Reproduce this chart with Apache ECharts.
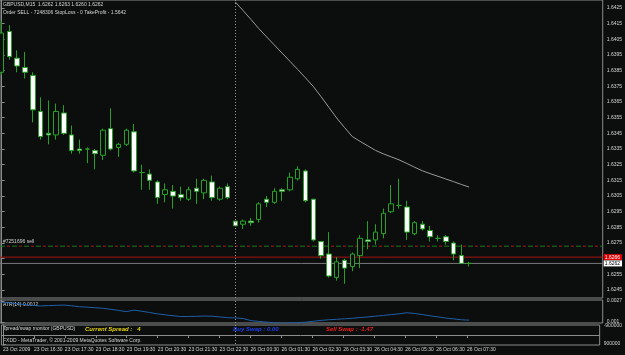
<!DOCTYPE html>
<html>
<head>
<meta charset="utf-8">
<title>GBPUSD,M15</title>
<script src="https://cdn.jsdelivr.net/npm/echarts@6/dist/echarts.min.js"></script>
<style>
  html, body { margin: 0; padding: 0; background: #0b0e0d; }
  #chart { width: 625px; height: 355px; }
</style>
</head>
<body>
<div id="chart"></div>
<script>
  // M15 bars, first one is 23 Oct 15:30 (bar 30 = 26 Oct 00:00)
  var opens  = [1.6384, 1.6410, 1.6393, 1.6387, 1.6382, 1.6359, 1.6345, 1.6344, 1.6358, 1.6344,
                1.6335, 1.6335, 1.6334, 1.6331, 1.6348, 1.6336, 1.6338, 1.6346, 1.6320, 1.6319,
                1.6314, 1.6306, 1.6308, 1.6306, 1.6303, 1.6310, 1.6307, 1.6314, 1.6303, 1.6311,
                1.6289, 1.6287, 1.6289, 1.6290, 1.6303, 1.6301, 1.6309, 1.6309, 1.6316, 1.6321,
                1.6303, 1.6276, 1.6268, 1.6253, 1.6264, 1.6260, 1.6267, 1.6277, 1.6277, 1.6281,
                1.6295, 1.6299, 1.6298, 1.6281, 1.6287, 1.6283, 1.6278, 1.6279, 1.6275, 1.6267,
                1.6262];
  var closes = [1.6409, 1.6394, 1.6388, 1.6384, 1.6360, 1.6343, 1.6344, 1.6359, 1.6345, 1.6334,
                1.6334, 1.6335, 1.6332, 1.6347, 1.6335, 1.6338, 1.6347, 1.6321, 1.6320, 1.6315,
                1.6304, 1.6309, 1.6305, 1.6304, 1.6309, 1.6308, 1.6315, 1.6304, 1.6310, 1.6304,
                1.6286, 1.6289, 1.6288, 1.6300, 1.6301, 1.6308, 1.6308, 1.6317, 1.6322, 1.6302,
                1.6277, 1.6267, 1.6254, 1.6263, 1.6259, 1.6268, 1.6278, 1.6276, 1.6282, 1.6294,
                1.6300, 1.6299, 1.6282, 1.6288, 1.6284, 1.6279, 1.6278, 1.6276, 1.6268, 1.6262,
                1.6262];
  var highs  = [1.6417, 1.6414, 1.6398, 1.6397, 1.6384, 1.6368, 1.6366, 1.6364, 1.6363, 1.6350,
                1.6341, 1.6336, 1.6335, 1.6348, 1.6361, 1.6339, 1.6348, 1.6351, 1.6325, 1.6322,
                1.6315, 1.6313, 1.6312, 1.6311, 1.6311, 1.6316, 1.6316, 1.6318, 1.6311, 1.6313,
                1.6289, 1.6290, 1.6291, 1.6301, 1.6305, 1.6310, 1.6310, 1.6320, 1.6324, 1.6322,
                1.6303, 1.6276, 1.6282, 1.6266, 1.6265, 1.6269, 1.6280, 1.6289, 1.6287, 1.6297,
                1.6312, 1.6316, 1.6302, 1.6289, 1.6289, 1.6286, 1.6280, 1.6280, 1.6276, 1.6274,
                1.6263];
  var lows   = [1.6382, 1.6392, 1.6384, 1.6380, 1.6352, 1.6341, 1.6338, 1.6341, 1.6344, 1.6332,
                1.6332, 1.6326, 1.6322, 1.6328, 1.6334, 1.6330, 1.6337, 1.6320, 1.6309, 1.6309,
                1.6300, 1.6301, 1.6297, 1.6302, 1.6302, 1.6300, 1.6303, 1.6302, 1.6302, 1.6303,
                1.6286, 1.6284, 1.6286, 1.6288, 1.6298, 1.6300, 1.6302, 1.6308, 1.6315, 1.6301,
                1.6276, 1.6265, 1.6253, 1.6251, 1.6249, 1.6257, 1.6259, 1.6271, 1.6274, 1.6278,
                1.6294, 1.6297, 1.6277, 1.6280, 1.6283, 1.6276, 1.6276, 1.6274, 1.6264, 1.6262,
                1.6260];

  // grey indicator line, starts on the new day (bar 30)
  var guideStart = 30;
  var guideLine = [1.64288, 1.64233, 1.64177, 1.64119, 1.64066, 1.64014, 1.63962, 1.63910, 1.63858, 1.63804,
                   1.63749, 1.63684, 1.63616, 1.63548, 1.63488, 1.63430, 1.63399, 1.63370, 1.63341, 1.63319,
                   1.63300, 1.63281, 1.63258, 1.63234, 1.63211, 1.63193, 1.63176, 1.63159, 1.63142, 1.63124,
                   1.63107];

  // ATR(14)
  var atr = [0.00260, 0.00255, 0.00248, 0.00241, 0.00234, 0.00230, 0.00233, 0.00235, 0.00237, 0.00231,
             0.00224, 0.00220, 0.00216, 0.00211, 0.00203, 0.00194, 0.00184, 0.00196, 0.00187, 0.00177,
             0.00166, 0.00158, 0.00151, 0.00144, 0.00145, 0.00146, 0.00148, 0.00147, 0.00141, 0.00135,
             0.00133, 0.00128, 0.00111, 0.00105, 0.00099, 0.00094, 0.00089, 0.00093, 0.00095, 0.00098,
             0.00106, 0.00113, 0.00118, 0.00122, 0.00126, 0.00130, 0.00136, 0.00141, 0.00147, 0.00153,
             0.00160, 0.00166, 0.00175, 0.00169, 0.00160, 0.00150, 0.00141, 0.00132, 0.00125, 0.00118,
             0.00115];

  var priceTicks = [1.6245, 1.6255, 1.6265, 1.6275, 1.6285, 1.6295, 1.6305, 1.6315, 1.6325, 1.6335,
                    1.6345, 1.6355, 1.6365, 1.6375, 1.6385, 1.6395, 1.6405, 1.6415, 1.6425];
  var atrTicks = [0.001, 0.0027];
  var atrTickLabels = ['0.001', '0.0027'];
  var monitorTicks = [-900000, 900000];
  var timeTicks = [0, 4, 8, 12, 16, 20, 24, 28, 32, 36, 40, 44, 48, 52, 56, 60];
  var timeLabels = ['23 Oct 2009', '23 Oct 16:30', '23 Oct 17:30', '23 Oct 18:30', '23 Oct 19:30',
                    '23 Oct 20:30', '23 Oct 21:30', '23 Oct 22:30', '26 Oct 00:30', '26 Oct 01:30',
                    '26 Oct 02:30', '26 Oct 03:30', '26 Oct 04:30', '26 Oct 05:30', '26 Oct 06:30',
                    '26 Oct 07:30'];

  var separatorBar = 30;
  var askPrice = 1.6266;
  var bidPrice = 1.6262;
  var orderPrice = 1.6273;
  var orderTicket = '#7251696 sell';
  var atrNow = '0.0012';
  var spreadNow = 4;
  var buySwap = '0.00';
  var sellSwap = '-1.47';

  var FONT = 'Liberation Sans';
  var BG = '#0b0e0d';
  var GRID_GRAY = '#8c8c8c';
  var TEXT = '#d4d4d4';
  var GREEN = '#26a126';

  var X_MIN = -0.204, X_MAX = 77.14;

  var candleData = opens.map(function (o, i) { return [i, o, closes[i], lows[i], highs[i]]; });
  var guideData = guideLine.map(function (v, k) { return [guideStart + k, v]; });
  var atrData = atr.map(function (v, i) { return [i, v]; });

  function xAxisFor(idx, showLabels) {
    return {
      type: 'value', gridIndex: idx, min: X_MIN, max: X_MAX,
      axisLine: { show: showLabels, lineStyle: { color: GRID_GRAY } },
      splitLine: { show: false },
      axisTick: showLabels ? { show: true, customValues: timeTicks, length: 3, lineStyle: { color: GRID_GRAY } } : { show: false },
      axisLabel: showLabels ? {
        show: true, customValues: timeTicks, align: 'left', margin: 2,
        fontFamily: FONT, fontSize: 5, color: TEXT,
        formatter: function (v) { return timeLabels[timeTicks.indexOf(Math.round(v))] || ''; }
      } : { show: false }
    };
  }

  function yAxisFor(idx, min, max, ticks, fmt, inverse) {
    return {
      type: 'value', gridIndex: idx, position: 'right', min: min, max: max, inverse: !!inverse,
      axisLine: { show: true, lineStyle: { color: GRID_GRAY } },
      splitLine: { show: false },
      axisTick: { show: true, customValues: ticks, length: 3, lineStyle: { color: GRID_GRAY } },
      axisLabel: { show: true, customValues: ticks, margin: 4, fontFamily: FONT, fontSize: 5, color: TEXT, formatter: fmt }
    };
  }

  function separator() {
    return {
      silent: true, symbol: 'none', animation: false,
      label: { show: false },
      lineStyle: { color: '#9a9a9a', type: [1, 2], width: 1 },
      data: [{ xAxis: separatorBar }]
    };
  }

  // a horizontal price level across the whole chart, drawn as a 2-point line
  function level(name, price, lineStyle, extra) {
    var s = {
      name: name, type: 'line', xAxisIndex: 0, yAxisIndex: 0, silent: true,
      data: [[X_MIN, price], [X_MAX, price]],
      symbol: 'none', lineStyle: lineStyle, z: 1
    };
    return Object.assign(s, extra || {});
  }

  var smallText = { fontFamily: FONT, fontSize: 5, fill: TEXT };

  var option = {
    backgroundColor: BG,
    animation: false,
    grid: [
      { left: 0, top: 0, width: 606, height: 298, show: true, borderColor: GRID_GRAY, borderWidth: 1, backgroundColor: BG },
      { left: 0, top: 300, width: 606, height: 23, show: true, borderColor: GRID_GRAY, borderWidth: 1 },
      { left: 0, top: 325, width: 606, height: 20, show: true, borderColor: GRID_GRAY, borderWidth: 1 }
    ],
    xAxis: [xAxisFor(0, false), xAxisFor(1, false), xAxisFor(2, true)],
    yAxis: [
      yAxisFor(0, 1.623993, 1.643011, priceTicks, function (v) { return v.toFixed(4); }),
      yAxisFor(1, 0.000919, 0.002782, atrTicks, function (v) {
        var k = atrTicks.indexOf(v); return k >= 0 ? atrTickLabels[k] : '';
      }),
      yAxisFor(2, -1000000, 1000000, monitorTicks, function (v) { return String(v); }, true)
    ],
    graphic: [
      { type: 'text', left: 3, top: 2, style: Object.assign({}, smallText, {
          text: 'GBPUSD,M15  ' + [opens[60], highs[60], lows[60], closes[60]].map(function (v) { return v.toFixed(4); }).join(' ') }) },
      { type: 'text', left: 3, top: 10, style: Object.assign({}, smallText, {
          text: 'Order SELL - 7248306 StopLoss - 0 TakeProfit - 1.5642' }) },
      { type: 'text', left: 3, top: 302, style: Object.assign({}, smallText, { text: 'ATR(14) ' + atrNow }) },
      { type: 'text', left: 3, top: 326, style: Object.assign({}, smallText, { text: 'spread/swap monitor (GBPUSD)' }) },
      { type: 'text', left: 85, top: 326, style: { text: 'Current Spread :   ' + spreadNow, fontFamily: FONT, fontSize: 6, fontWeight: 'bold', fontStyle: 'italic', fill: '#e6d400' } },
      { type: 'text', left: 233, top: 326, style: { text: 'Buy Swap : ' + buySwap, fontFamily: FONT, fontSize: 6, fontWeight: 'bold', fontStyle: 'italic', fill: '#1d3df0' } },
      { type: 'text', left: 326, top: 326, style: { text: 'Sell Swap : ' + sellSwap, fontFamily: FONT, fontSize: 6, fontWeight: 'bold', fontStyle: 'italic', fill: '#f01c1c' } },
      { type: 'text', left: 3, top: 338, style: Object.assign({}, smallText, { text: 'FXDD - MetaTrader, \u00a9 2001-2009 MetaQuotes Software Corp.' }) }
    ],
    series: [
      level('order-green', orderPrice, { color: '#1d7a1d', type: [5, 7], width: 1 }, {
        endLabel: { show: false }
      }),
      level('order-red', orderPrice, { color: '#b01818', type: [3, 9], dashOffset: 5, width: 1 }),
      level('ask', askPrice, { color: '#a81414', width: 1 }, {
        endLabel: { show: true, distance: 1, formatter: askPrice.toFixed(4), fontFamily: FONT, fontSize: 5,
                    color: '#ffffff', backgroundColor: '#e00000', padding: [1, 2, 0, 1] }
      }),
      level('bid', bidPrice, { color: '#7a7a7a', width: 1 }, {
        endLabel: { show: true, distance: 1, formatter: bidPrice.toFixed(4), fontFamily: FONT, fontSize: 5,
                    color: '#000000', backgroundColor: '#ffffff', padding: [1, 2, 0, 1] }
      }),
      {
        name: 'GBPUSD', type: 'candlestick', xAxisIndex: 0, yAxisIndex: 0, z: 3,
        data: candleData, encode: { x: 0, y: [1, 2, 3, 4] },
        barWidth: 5,
        itemStyle: { color: BG, color0: '#ffffff', borderColor: GREEN, borderColor0: GREEN, borderWidth: 1 },
        markLine: separator()
      },
      {
        name: 'guide', type: 'line', xAxisIndex: 0, yAxisIndex: 0, z: 2,
        data: guideData, showSymbol: false, symbol: 'none',
        lineStyle: { color: '#9a9a9a', width: 1 }
      },
      {
        name: 'ATR(14)', type: 'line', xAxisIndex: 1, yAxisIndex: 1,
        data: atrData, showSymbol: false, symbol: 'none',
        lineStyle: { color: '#1f5fa8', width: 1 },
        markLine: separator()
      },
      {
        name: 'monitor', type: 'line', xAxisIndex: 2, yAxisIndex: 2,
        data: [], showSymbol: false,
        markLine: separator()
      }
    ]
  };

  var chart = echarts.init(document.getElementById('chart'));
  chart.setOption(option);

  // ticket label of the order line, placed at the left end of the level
  var p = chart.convertToPixel({ xAxisIndex: 0, yAxisIndex: 0 }, [X_MIN, orderPrice]);
  chart.setOption({
    graphic: [{ type: 'text', id: 'ticket', left: 3, top: p[1] - 7, style: Object.assign({}, smallText, { text: orderTicket }) }]
  });
</script>
</body>
</html>
